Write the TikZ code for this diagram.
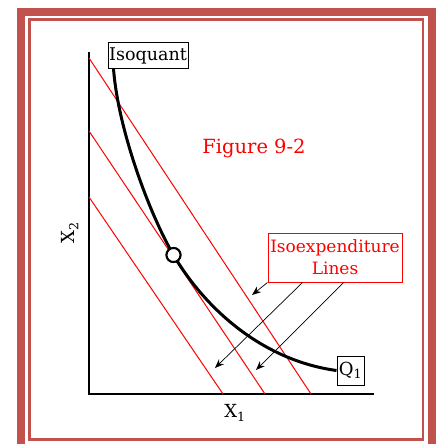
\documentclass[tikz,border=0pt]{standalone}
\usepackage{fontspec}
\setmainfont{DejaVu Serif}
\usetikzlibrary{arrows.meta,calc}
\definecolor{framered}{RGB}{193,82,78}

\begin{document}
\begin{tikzpicture}[x=1pt,y=-1pt,
  lbl/.style={draw,inner sep=0pt,line width=1pt},
  budget/.style={red,line width=1pt},
  pointer/.style={-{Stealth[length=9pt,width=7pt]},line width=0.7pt}]
\clip (0,0) rectangle (437,444);
% frame
\draw[framered,line width=8] (21,12) rectangle (431.5,460);
\draw[framered,line width=2.8] (29.3,19.8) rectangle (423,439.5);
% axes
\coordinate (ytop) at (89,52);
\coordinate (o) at (89,394);
\coordinate (xend) at (374,394);
\draw[line width=1.5] (ytop) -- (o) -- (xend);
\node[rotate=90,font=\fontsize{18}{18}\selectfont] (x2) at (70,233) {X\textsubscript{2}};
\node[font=\fontsize{18}{18}\selectfont] (x1) at (235,413) {X\textsubscript{1}};
% isoexpenditure lines
\foreach \a/\b in {58/311,131/265,197/223}
  \draw[budget] (89,\a) -- (\b,394);
% labels
\node[lbl,minimum width=80,minimum height=25,font=\fontsize{17.5}{17.5}\selectfont] (iso) at (148,55.5) {Isoquant};
\node[lbl,minimum width=27,minimum height=29,font=\fontsize{18}{18}\selectfont] (q1) at (350.5,370.5) {Q\textsubscript{1}};
\node[text=red,font=\fontsize{19.5}{19.5}\selectfont] (fig) at (254,148) {Figure 9-2};
\node[draw=red,text=red,line width=1,inner sep=0,minimum width=134,minimum height=49,
  align=center,font=\fontsize{17}{22}\selectfont] (exp) at (335,257.5) {Isoexpenditure\\Lines};
% isoquant
\coordinate (c0) at ($(iso.south west)+(6,0)$);
\node[draw,circle,fill=white,line width=2,minimum size=14,inner sep=0] (opt) at (173.5,255) {};
\draw[line width=3] (c0) .. controls (118,130) and (150,215) .. (opt.center)
  .. controls (203.5,306) and (260,360) .. (q1.west);
\node[draw,circle,fill=white,line width=2,minimum size=14,inner sep=0] at (opt) {};
% pointers
\coordinate (t1) at (252,295);
\coordinate (t2) at (215,368);
\coordinate (t3) at (256,370);
\draw[pointer] (exp.south west) -- (t1);
\draw[pointer] ($(exp.south west)+(35,0)$) -- (t2);
\draw[pointer] ($(exp.south west)+(76,0)$) -- (t3);
\end{tikzpicture}
\end{document}
